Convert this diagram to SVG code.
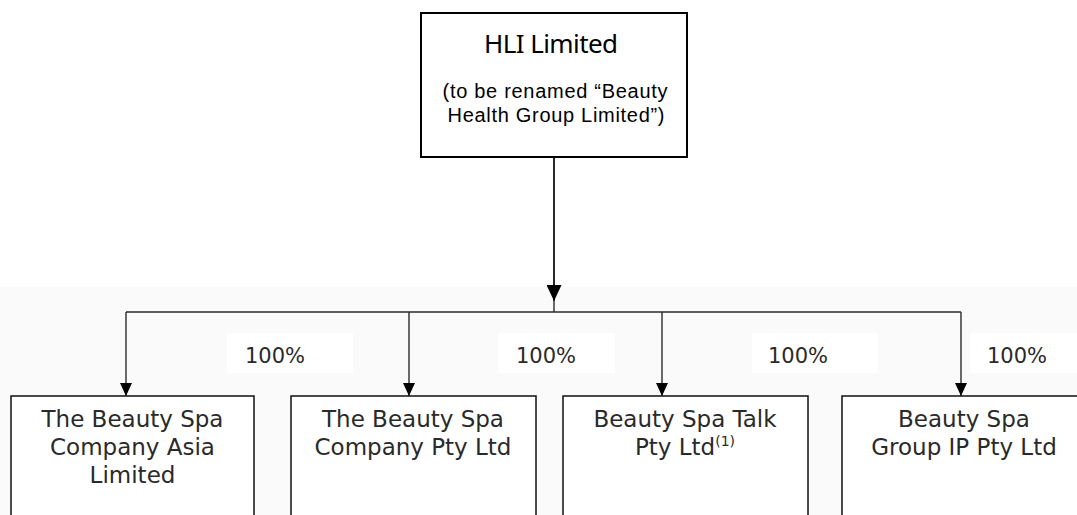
<svg xmlns="http://www.w3.org/2000/svg" width="1077" height="515" viewBox="0 0 1077 515">
<style>
.bg{fill:#fafafa}
.lbl{fill:#fff}
.top{fill:#fff;stroke:#000;stroke-width:2}
.box{fill:#fff;stroke:#111;stroke-width:1.5}
.conn{stroke:#2a2a2a;stroke-width:1.4;fill:none}
.main{stroke:#000;stroke-width:1.7;fill:none}
.h1{font-family:"Noto Sans","Open Sans",sans-serif;font-size:26px;fill:#000;text-anchor:middle}
.h2{font-family:"Liberation Sans",Arial,sans-serif;font-size:20px;fill:#000;text-anchor:middle}
.t{font-family:"DejaVu Sans",Verdana,sans-serif;font-size:23px;fill:#2a2a2a;text-anchor:middle}
.p{font-family:"DejaVu Sans",Verdana,sans-serif;font-size:21px;fill:#2a2a2a}
</style>
<defs>
<marker id="ah" markerUnits="userSpaceOnUse" markerWidth="13" markerHeight="12" viewBox="0 0 13 12" refX="13" refY="6" orient="auto">
<path d="M0,0 L13,6 L0,12 z" fill="#000"/>
</marker>
<marker id="ahBig" markerUnits="userSpaceOnUse" markerWidth="16" markerHeight="15" viewBox="0 0 16 15" refX="16" refY="7.5" orient="auto">
<path d="M0,0 L16,7.5 L0,15 z" fill="#000"/>
</marker>
</defs>
<rect class="bg" x="0" y="287" width="1077" height="228"/>
<g id="labels">
<rect class="lbl" x="227" y="333" width="126" height="40"/>
<rect class="lbl" x="498" y="333" width="117" height="40"/>
<rect class="lbl" x="752" y="333" width="126" height="40"/>
<rect class="lbl" x="970" y="333" width="107" height="40"/>
<text class="p" x="245" y="363">100%</text>
<text class="p" x="516" y="363">100%</text>
<text class="p" x="768" y="363">100%</text>
<text class="p" x="987" y="363">100%</text>
</g>
<g id="connectors">
<path class="main" d="M554,157 V301" marker-end="url(#ahBig)"/>
<path class="conn" d="M554,300 V312"/>
<path class="conn" d="M126,312 H961"/>
<path class="conn" d="M126,312 V396" marker-end="url(#ah)"/>
<path class="conn" d="M409,312 V396" marker-end="url(#ah)"/>
<path class="conn" d="M662,312 V396" marker-end="url(#ah)"/>
<path class="conn" d="M961,312 V396" marker-end="url(#ah)"/>
</g>
<g id="hli">
<rect class="top" x="421" y="13" width="266" height="144"/>
<text class="h1" x="551" y="53" textLength="134">HLI Limited</text>
<text class="h2" x="555" y="98" textLength="225">(to be renamed “Beauty</text>
<text class="h2" x="556" y="122" textLength="217">Health Group Limited”)</text>
</g>
<g id="asia">
<rect class="box" x="11" y="396" width="243" height="140"/>
<text class="t" x="132.5" y="427">The Beauty Spa</text>
<text class="t" x="132.5" y="455">Company Asia</text>
<text class="t" x="132.5" y="483">Limited</text>
</g>
<g id="company">
<rect class="box" x="291" y="396" width="245" height="140"/>
<text class="t" x="413" y="427">The Beauty Spa</text>
<text class="t" x="413" y="455">Company Pty Ltd</text>
</g>
<g id="talk">
<rect class="box" x="563" y="396" width="245" height="140"/>
<text class="t" x="685" y="427">Beauty Spa Talk</text>
<text class="t" x="685" y="455">Pty Ltd<tspan font-size="14" dy="-9">(1)</tspan></text>
</g>
<g id="ip">
<rect class="box" x="842" y="396" width="245" height="140"/>
<text class="t" x="964" y="427">Beauty Spa</text>
<text class="t" x="964" y="455">Group IP Pty Ltd</text>
</g>
</svg>
